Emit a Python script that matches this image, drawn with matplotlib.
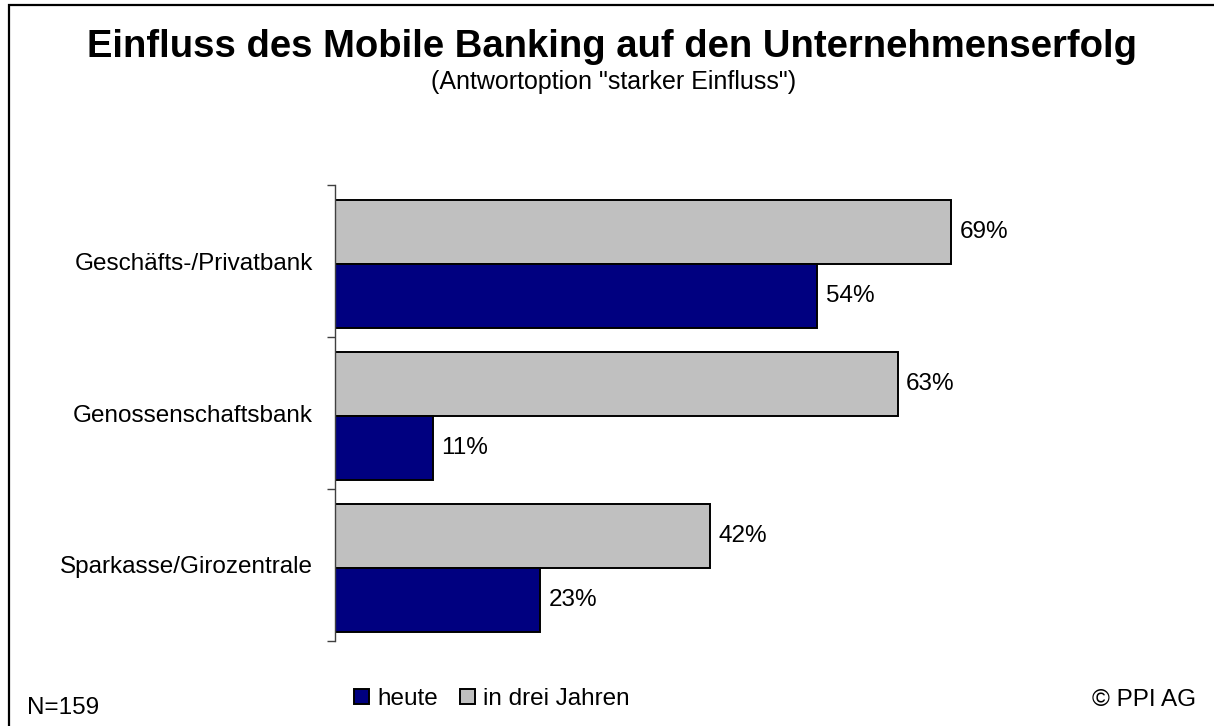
import matplotlib
matplotlib.use("Agg")
import matplotlib.pyplot as plt
from matplotlib.patches import Rectangle
import numpy as np

plt.rcParams['font.family'] = ['Liberation Sans', 'DejaVu Sans']

categories = ["Geschäfts-/Privatbank", "Genossenschaftsbank", "Sparkasse/Girozentrale"]
heute = [54, 11, 23]
in_drei_jahren = [69, 63, 42]
series_labels = ["heute", "in drei Jahren"]
title = "Einfluss des Mobile Banking auf den Unternehmenserfolg"
subtitle = '(Antwortoption "starker Einfluss")'

W, H = 1214, 726
fig = plt.figure(figsize=(W / 100, H / 100), dpi=100)

def fx(px):
    return px / W

def fy(py):
    return 1 - py / H

FS = 17.5

# frame around figure
fig.patches.append(Rectangle((fx(9), fy(760)), 1.2, fy(5) - fy(760), transform=fig.transFigure,
                             fill=False, edgecolor='black', linewidth=1.6))

ax_left, ax_right, ax_top, ax_bot = 335, 1200, 185, 641
ax = fig.add_axes([fx(ax_left), fy(ax_bot), fx(ax_right - ax_left), (ax_bot - ax_top) / H])
px_per_pct = 8.93
ax.set_xlim(0, (ax_right - ax_left) / px_per_pct)
ax.set_ylim(len(categories) - 0.5, -0.5)

y = np.arange(len(categories))
h = 0.42
navy = '#000080'
gray = '#c0c0c0'
b_gray = ax.barh(y - 0.19, in_drei_jahren, height=h, color=gray, edgecolor='black', linewidth=1.4)
b_navy = ax.barh(y + 0.23, heute, height=h, color=navy, edgecolor='black', linewidth=1.4)

for rects, vals in ((b_gray, in_drei_jahren), (b_navy, heute)):
    for r, v in zip(rects, vals):
        ax.annotate(f"{v}%", (r.get_width(), r.get_y() + r.get_height() / 2),
                    xytext=(6, 0), textcoords='offset points', va='center', ha='left', fontsize=FS)

for s in ['top', 'right', 'bottom']:
    ax.spines[s].set_visible(False)
ax.spines['left'].set_color('#404040')
ax.spines['left'].set_linewidth(1.0)
ax.set_xticks([])
ax.set_yticks(y)
ax.set_yticklabels(categories, fontsize=FS)
ax.tick_params(axis='y', which='major', length=0, pad=16)
ax.set_yticks(np.arange(-0.5, len(categories), 1.0), minor=True)
ax.tick_params(axis='y', which='minor', length=6, width=1.0, color='#404040')
ax.set_facecolor('none')

fig.text(fx(612), fy(47), title, ha='center', va='center', fontsize=27.5, fontweight='bold')
fig.text(fx(614), fy(82), subtitle, ha='center', va='center', fontsize=18)

# legend
leg = fig.legend([b_navy[0], b_gray[0]], series_labels, loc='center', bbox_to_anchor=(fx(492), fy(699)),
                 ncol=2, frameon=False, fontsize=FS, handlelength=0.6, handleheight=0.6,
                 handletextpad=0.35, columnspacing=0.9, borderpad=0)

fig.text(fx(27), fy(708), "N=159", ha='left', va='center', fontsize=FS)
fig.text(fx(1196), fy(700), "© PPI AG", ha='right', va='center', fontsize=FS)

fig.savefig("out.png", dpi=100)
